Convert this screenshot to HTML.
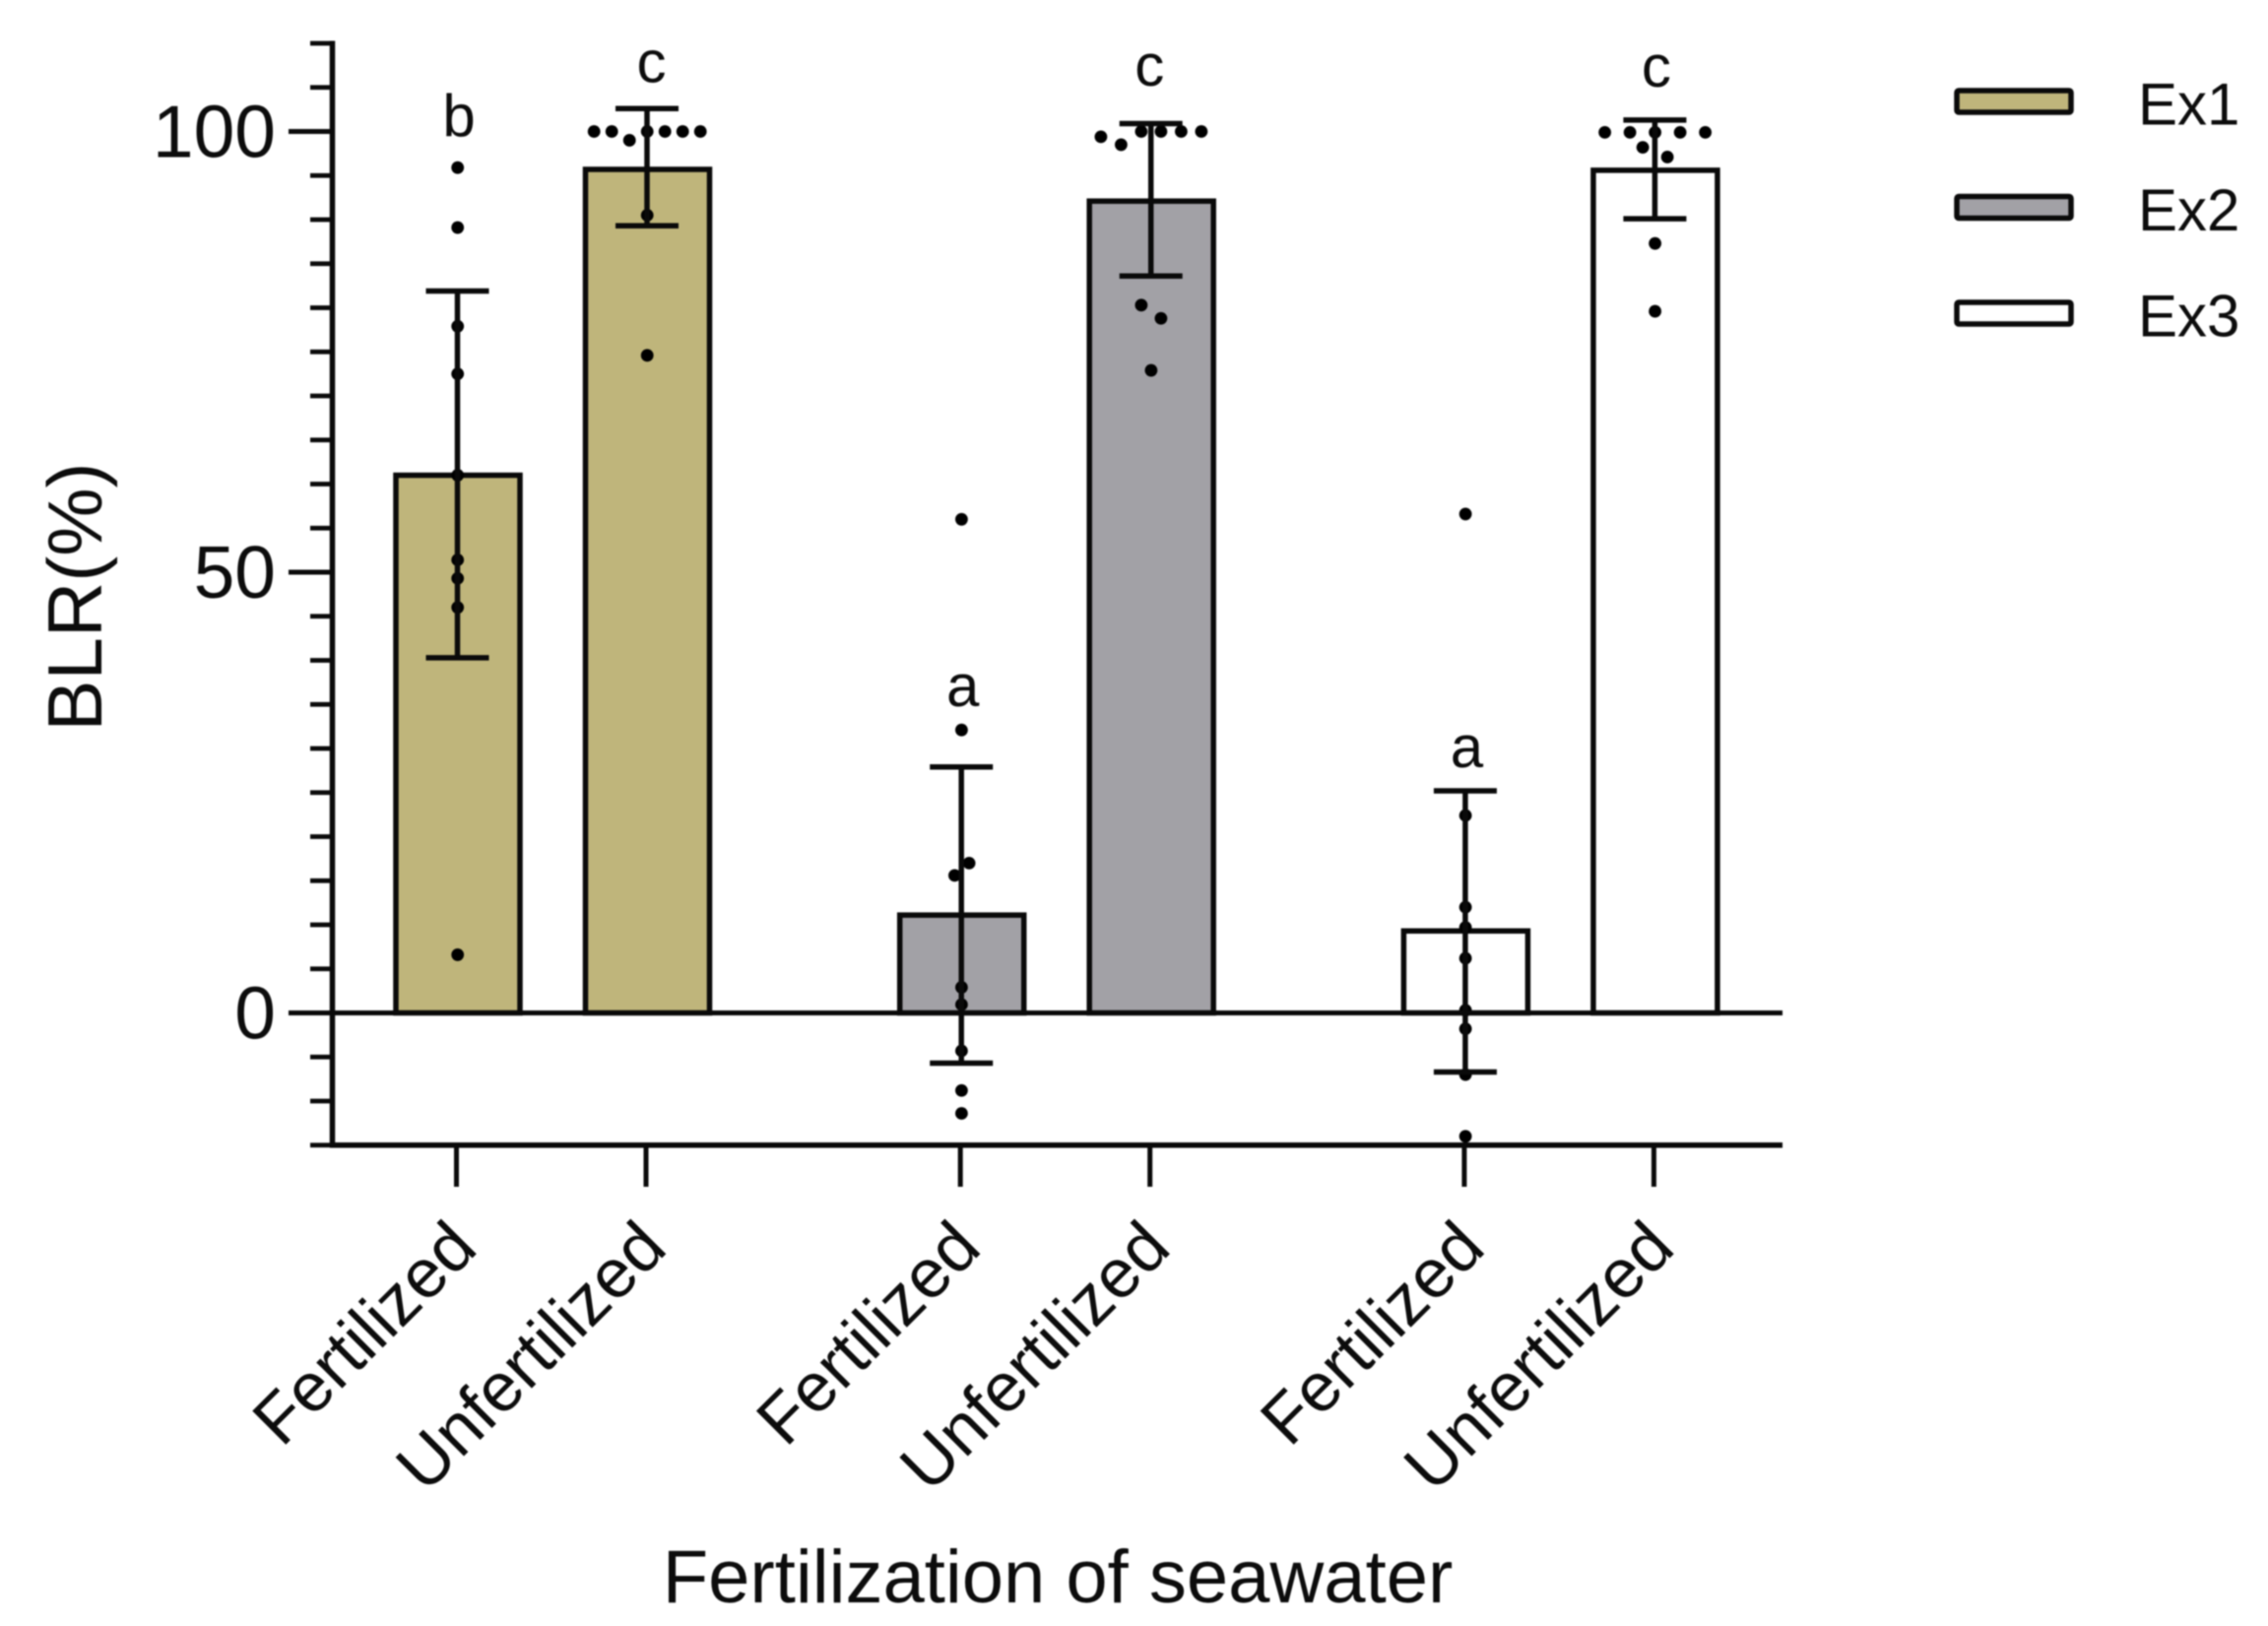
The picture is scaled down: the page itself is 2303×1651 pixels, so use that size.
<!DOCTYPE html>
<html lang="en">
<head>
<meta charset="utf-8">
<title>BLR by fertilization of seawater</title>
<style>
  html, body { margin: 0; padding: 0; background: #fff; }
  body { width: 2303px; height: 1651px; overflow: hidden; }
  svg { display: block; filter: blur(0.9px); }
  text { font-family: "Liberation Sans", Arial, sans-serif; fill: #0c0c0c; }
</style>
</head>
<body>
<svg id="chart" xmlns="http://www.w3.org/2000/svg" width="2303" height="1651" viewBox="0 0 2303 1651">
  <rect x="0" y="0" width="2303" height="1651" fill="#ffffff"/>
  <g id="bars"></g>
  <g id="points"></g>
  <g id="errors"></g>
  <g id="axes"></g>
  <g id="sig"></g>
  <g id="legend"></g>
  <text transform="translate(103 606) rotate(-90)" text-anchor="middle" font-size="78">BLR(%)</text>
  <text x="1074" y="1627" text-anchor="middle" font-size="76">Fertilization of seawater</text>
</svg>
<script>
// ---- chart data ----
const categories = ['Fertilized', 'Unfertilized', 'Fertilized', 'Unfertilized', 'Fertilized', 'Unfertilized'];
const experiments = ['Ex1', 'Ex2', 'Ex3'];
const experimentColors = ['#bfb57b', '#a2a1a6', '#ffffff'];
const barExperiment = [0, 0, 1, 1, 2, 2];
const meanValues = [61, 95.7, 11.1, 92.1, 9.3, 95.6];
const errorUpper = [81.9, 102.6, 27.9, 100.9, 25.2, 101.3];
const errorLower = [40.3, 89.3, -5.7, 83.6, -6.7, 90.1];
const significance = ['b', 'c', 'a', 'c', 'a', 'c'];
const significanceLevel = [99.5, 105.6, 34.8, 105.2, 27.9, 105.1];
const pointValues = [
  [95.9, 89.1, 77.9, 72.5, 61, 51.4, 49.3, 46, 6.6],
  [100, 100, 99, 100, 100, 100, 100, 90.5, 74.6],
  [56, 32.1, 17, 15.6, 2.9, 0.95, -4.3, -8.8, -11.4],
  [99.4, 98.5, 100, 100, 100, 100, 80.3, 78.8, 72.9],
  [56.6, 22.4, 12, 9.7, 6.2, 0.3, -1.8, -7, -14],
  [99.9, 99.9, 99.9, 99.9, 99.9, 98.2, 97.1, 87.3, 79.6]
];
const pointSwarm = [
  [0, 0, 0, 0, 0, 0, 0, 0, 0],
  [-5.4, -3.6, -1.8, 0, 1.8, 3.6, 5.4, 0, 0],
  [0, 0, 0.77, -0.7, 0, 0, 0, 0, 0],
  [-5.1, -3.05, -1, 1, 3.05, 5.1, -1, 1, 0],
  [0, 0, 0, 0, 0, 0, 0, 0, 0],
  [-5.1, -2.55, 0, 2.55, 5.1, -1.25, 1.25, 0, 0]
];
const majorTicks = [0, 50, 100];
const majorTickLabels = ['0', '50', '100'];
const minorTicks = [-15, -10, -5, 5, 10, 15, 20, 25, 30, 35, 40, 45, 55, 60, 65, 70, 75, 80, 85, 90, 95, 105, 110];

// ---- scales ----
const yScale = v => 1028.5 - 8.95 * v;
const xScale = i => 465 + 511.7 * Math.floor(i / 2) + 192.5 * (i % 2);
const swarmUnit = 10;
const barWidth = 126;
const capHalf = 32;
const pointRadius = 6.4;
const INK = '#0a0a0a';
const NS = 'http://www.w3.org/2000/svg';

function make(tag, attrs, parent) {
  const node = document.createElementNS(NS, tag);
  for (const k in attrs) node.setAttribute(k, attrs[k]);
  parent.appendChild(node);
  return node;
}
function hline(x1, x2, y, w, parent) {
  return make('line', {x1: x1, x2: x2, y1: y, y2: y, stroke: INK, 'stroke-width': w}, parent);
}
function vline(x, y1, y2, w, parent) {
  return make('line', {x1: x, x2: x, y1: y1, y2: y2, stroke: INK, 'stroke-width': w}, parent);
}

const barsLayer = document.getElementById('bars');
const pointsLayer = document.getElementById('points');
const errorsLayer = document.getElementById('errors');
const axesLayer = document.getElementById('axes');
const sigLayer = document.getElementById('sig');
const legendLayer = document.getElementById('legend');

// ---- bars, points, error bars, letters ----
categories.forEach((cat, i) => {
  const cx = xScale(i);
  const top = yScale(meanValues[i]);
  const bar = make('rect', {
    x: cx - barWidth / 2, y: top, width: barWidth, height: yScale(0) - top,
    fill: experimentColors[barExperiment[i]], stroke: INK, 'stroke-width': 5.5
  }, barsLayer);
  
  

  pointValues[i].forEach((v, j) => {
    const dot = make('circle', {
      cx: cx - 0.3 + pointSwarm[i][j] * swarmUnit, cy: yScale(v), r: pointRadius, fill: '#000'
    }, pointsLayer);
    
    
  });

  const ex = cx - 0.5;
  const stem = vline(ex, yScale(errorUpper[i]), yScale(errorLower[i]), 5.5, errorsLayer);
  
  
  const capTop = hline(ex - capHalf, ex + capHalf, yScale(errorUpper[i]), 5.5, errorsLayer);
  
  
  const capLow = hline(ex - capHalf, ex + capHalf, yScale(errorLower[i]), 5.5, errorsLayer);
  
  

  const letter = make('text', {
    x: cx + 1 + (i === 1 ? 3 : 0) + (i === 3 ? -3 : 0), y: yScale(significanceLevel[i]), 'text-anchor': 'middle', 'font-size': 60
  }, sigLayer);
  letter.textContent = significance[i];
  
  

  const tick = vline(cx - 1.5, yScale(-15), 1205, 5, axesLayer);
  
  

  const lx = cx + 22;
  const label = make('text', {
    transform: 'translate(' + lx + ' 1270) rotate(-45)', 'text-anchor': 'end', 'font-size': 70
  }, axesLayer);
  label.textContent = cat;
  
  
});

// ---- axes ----
const yAxis = vline(337.5, yScale(110) - 2.5, yScale(-15) + 2.5, 5.5, axesLayer);


const xAxis = hline(335, 1810, yScale(-15), 5.5, axesLayer);


const zeroLine = hline(337, 1810, yScale(0), 5, axesLayer);



minorTicks.forEach(v => {
  const t = hline(315, 337, yScale(v), 4.8, axesLayer);
  
  
});
majorTicks.forEach((v, i) => {
  const t = hline(293, 337, yScale(v), 5, axesLayer);
  
  
  const lab = make('text', {x: 280, y: yScale(v) + 26, 'text-anchor': 'end', 'font-size': 75}, axesLayer);
  lab.textContent = majorTickLabels[i];
  
  
});

// ---- legend ----
const legendRow = i => 103 + 107.5 * i;
experiments.forEach((name, i) => {
  const swatch = make('rect', {
    x: 1987, y: legendRow(i) - 11, width: 116, height: 22, rx: 2,
    fill: experimentColors[i], stroke: INK, 'stroke-width': 5.5
  }, legendLayer);
  
  
  const txt = make('text', {x: 2171, y: legendRow(i) + 23.5, 'font-size': 60}, legendLayer);
  txt.textContent = name;
  
  
});
</script>
</body>
</html>
